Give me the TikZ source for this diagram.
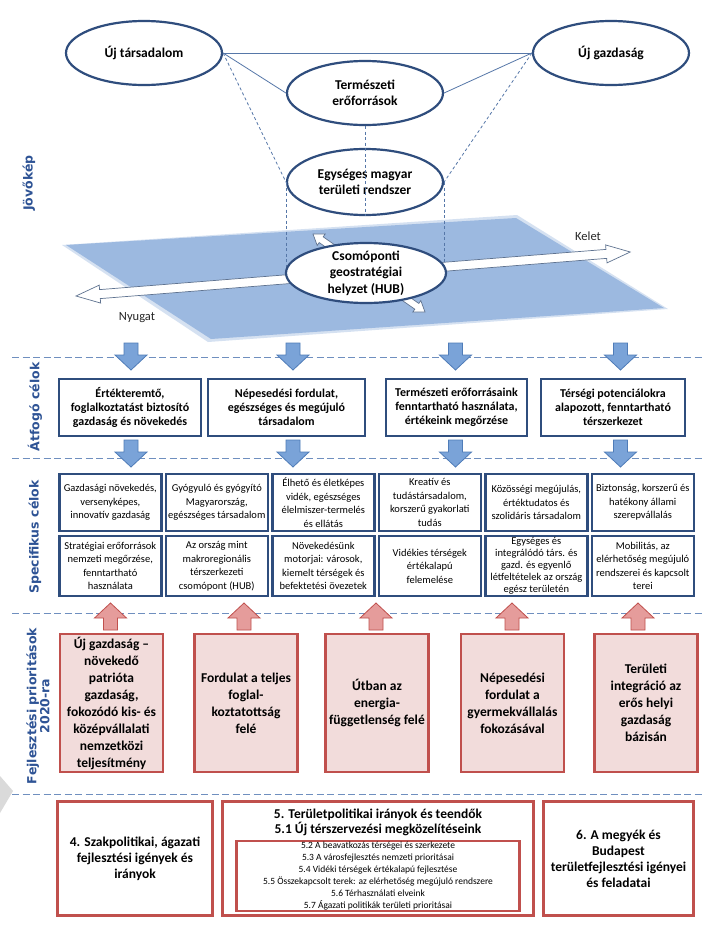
\documentclass[tikz,border=0pt]{standalone}
\usepackage{fontspec}
\setmainfont{Carlito}
\newfontfamily\labfont{DejaVu Sans}
\usetikzlibrary{shapes.geometric}
\definecolor{navy}{HTML}{2F4D7D}
\definecolor{lineblue}{HTML}{5677A8}
\definecolor{sepblue}{HTML}{6F8FBF}
\definecolor{labblue}{HTML}{2E5395}
\definecolor{planeblue}{HTML}{9CB9E0}
\definecolor{bafill}{HTML}{7AA3D8}
\definecolor{badraw}{HTML}{4F7CB8}
\definecolor{redb}{HTML}{C0504D}
\definecolor{redfill}{HTML}{F2DCDB}
\definecolor{rafill}{HTML}{E59C9B}
\definecolor{arrowline}{HTML}{5F7390}
\definecolor{foldgray}{HTML}{DADADA}
\begin{document}
\begin{tikzpicture}[x=1pt,y=-1pt,
  ell/.style={ellipse, draw=navy, line width=2.2pt, fill=white, inner sep=0pt, align=center,
    font=\fontsize{13.5}{16.5}\selectfont\bfseries, minimum width=156pt, minimum height=64pt},
  conn/.style={draw=lineblue, line width=0.8pt},
  dconn/.style={draw=lineblue, line width=0.8pt, dash pattern=on 3pt off 2.5pt},
  sepline/.style={draw=sepblue, line width=0.9pt, dash pattern=on 7pt off 3.5pt},
  lab/.style={rotate=90, text=labblue, font=\labfont\bfseries\fontsize{12.5}{11.5}\selectfont, align=center, inner sep=0pt},
  barrowpic/.pic={\draw[draw=badraw, fill=bafill, line width=0.8pt, line join=miter]
    (-7,-13.5) -- (7,-13.5) -- (7,-1.5) -- (16,-1.5) -- (0,13.5) -- (-16,-1.5) -- (-7,-1.5) -- cycle;},
  rarrowpic/.pic={\draw[draw=redb, fill=rafill, line width=0.8pt, line join=miter]
    (-7,13.5) -- (7,13.5) -- (7,1.5) -- (16,1.5) -- (0,-13.5) -- (-16,1.5) -- (-7,1.5) -- cycle;},
  abox/.style={draw=navy, line width=2.5pt, fill=white, align=center, inner sep=1pt,
    font=\fontsize{12}{14}\selectfont\bfseries, minimum height=57pt},
  sbox/.style={draw=navy, line width=2.5pt, fill=white, align=center, inner sep=1pt,
    font=\fontsize{10.5}{13.5}\selectfont, minimum width=102pt},
  pbox/.style={draw=redb, line width=2.5pt, fill=redfill, align=center, inner sep=0pt,
    font=\fontsize{13.5}{17}\selectfont\bfseries, minimum width=103pt, minimum height=138pt},
  bbox/.style={draw=redb, line width=3.5pt, fill=white, align=center, inner sep=0pt,
    font=\fontsize{13.5}{16}\selectfont\bfseries, minimum height=114pt},
  hollow/.style={draw=arrowline, fill=white, line width=0.7pt, line join=miter},
  dirlab/.style={font=\fontsize{12.5}{14}\selectfont, text=black!85, inner sep=0pt}
]
\useasboundingbox (0,0) rectangle (726,940);
\fill[white] (0,0) rectangle (726,940);

% ---------- plane ----------
\fill[planeblue!70, opacity=0.6] (62,245) -- (517,215) -- (668,309) -- (208,342) -- cycle;
\fill[planeblue] (66,245) -- (516,218) -- (664,308) -- (211,339) -- cycle;

% ---------- top ellipses ----------
\node[ell] (ts) at (144,53) {Új társadalom};
\node[ell] (ug) at (611,53) {Új gazdaság};
\node[ell] (te) at (365,93) {Természeti\\erőforrások};
\node[ell, minimum height=66pt] (eg) at (365,182) {Egységes magyar\\területi rendszer};
\coordinate (hubc) at (366,273);

\draw[conn] (ts.east) -- (ug.west);
\draw[conn] (ts.east) -- (te.west);
\draw[conn] (ug.west) -- (te.east);
\draw[dconn] (ts.east) -- (eg.west);
\draw[dconn] (ug.west) -- (eg.east);
\draw[dconn] (te.south) -- (eg.south);

% ---------- direction arrows ----------
\begin{scope}[shift={(76,296)}, rotate=4.54]
  \draw[hollow] (0,0) -- (24,-9) -- (24,-4.5) -- (532,-4.5) -- (532,-9) -- (556,0)
    -- (532,9) -- (532,4.5) -- (24,4.5) -- (24,9) -- cycle;
\end{scope}
\begin{scope}[shift={(313,234)}, rotate=-34.86]
  \draw[hollow] (0,0) -- (10,-7) -- (10,-3.5) -- (126.5,-3.5) -- (126.5,-7) -- (136.5,0)
    -- (126.5,7) -- (126.5,3.5) -- (10,3.5) -- (10,7) -- cycle;
\end{scope}

\draw[dconn] (eg.west) -- (eg.west |- hubc);
\draw[dconn] (eg.east) -- (eg.east |- hubc);

\node[ell, minimum width=160pt, minimum height=60pt, inner ysep=-5pt] (hub) at (hubc)
  {Csomóponti\\geostratégiai\\helyzet (HUB)};

\node[dirlab] (kelet) at (588,236) {Kelet};
\node[dirlab] (nyugat) at (137,318) {Nyugat};

% ---------- side labels ----------
\node[lab] (jk) at (29,183) {Jövőkép};
\node[lab] (ac) at (35,407) {Átfogó célok};
\node[lab] (sc) at (35,537) {Specifikus célok};
\node[lab] (fp) at (38,706) {Fejlesztési prioritások\\2020-ra};

% ---------- separators ----------
\draw[sepline] (12,357) -- (705,357);
\draw[sepline] (12,458) -- (705,458);
\draw[sepline] (12,613) -- (705,613);
\draw[sepline] (12,794) -- (705,794);

% small grey fold mark at the left edge
\fill[foldgray] (0,776) -- (13,791) -- (0,813) -- cycle;

% ---------- blue arrows ----------
\pic (ba1) at (131,356.5) {barrowpic};
\pic (ba2) at (293,356.5) {barrowpic};
\pic (ba3) at (455.5,356.5) {barrowpic};
\pic (ba4) at (620.5,356.5) {barrowpic};
\pic (bb1) at (131,453.5) {barrowpic};
\pic (bb2) at (293,453.5) {barrowpic};
\pic (bb3) at (455.5,453.5) {barrowpic};
\pic (bb4) at (620.5,453.5) {barrowpic};

% ---------- Átfogó célok ----------
\node[abox, minimum width=142pt] (a1) at (130,407.5) {Értékteremtő,\\foglalkoztatást biztosító\\gazdaság és növekedés};
\node[abox, minimum width=157pt] (a2) at (286.5,407.5) {Népesedési fordulat,\\egészséges és megújuló\\társadalom};
\node[abox, minimum width=141pt] (a3) at (456.5,407.5) {Természeti erőforrásaink\\fenntartható használata,\\értékeink megőrzése};
\node[abox, minimum width=144pt] (a4) at (613,407.5) {Térségi potenciálokra\\alapozott, fenntartható\\térszerkezet};

% ---------- Specifikus célok ----------
\node[sbox, minimum height=57pt] (s11) at (110.3,502.5) {Gazdasági növekedés,\\versenyképes,\\innovatív gazdaság};
\node[sbox, minimum height=57pt] (s12) at (216.8,502.5) {Gyógyuló és gyógyító\\Magyarország,\\egészséges társadalom};
\node[sbox, minimum height=57pt] (s13) at (323.3,502.5) {Élhető és életképes\\vidék, egészséges\\élelmiszer-termelés\\és ellátás};
\node[sbox, minimum height=57pt] (s14) at (429.8,502.5) {Kreatív és\\tudástársadalom,\\korszerű gyakorlati\\tudás};
\node[sbox, minimum height=57pt] (s15) at (536.3,502.5) {Közösségi megújulás,\\értéktudatos és\\szolidáris társadalom};
\node[sbox, minimum height=57pt] (s16) at (642.8,502.5) {Biztonság, korszerű és\\hatékony állami\\szerepvállalás};

\node[sbox, minimum height=60pt] (s21) at (110.3,566) {Stratégiai erőforrások\\nemzeti megőrzése,\\fenntartható\\használata};
\node[sbox, minimum height=60pt] (s22) at (216.8,566) {Az ország mint\\makroregionális\\térszerkezeti\\csomópont (HUB)};
\node[sbox, minimum height=60pt] (s23) at (323.3,566) {Növekedésünk\\motorjai: városok,\\kiemelt térségek és\\befektetési övezetek};
\node[sbox, minimum height=60pt] (s24) at (429.8,566) {Vidékies térségek\\értékalapú\\felemelése};
\node[sbox, minimum height=60pt, font=\fontsize{10.5}{12}\selectfont] (s25) at (536.3,566) {Egységes és\\integrálódó társ. és\\gazd. és egyenlő\\létfeltételek az ország\\egész területén};
\node[sbox, minimum height=60pt] (s26) at (642.8,566) {Mobilitás, az\\elérhetőség megújuló\\rendszerei és kapcsolt\\terei};

% ---------- red arrows ----------
\pic (ra1) at (110.5,616.5) {rarrowpic};
\pic (ra2) at (244,616.5) {rarrowpic};
\pic (ra3) at (376,616.5) {rarrowpic};
\pic (ra4) at (512,616.5) {rarrowpic};
\pic (ra5) at (638,616.5) {rarrowpic};

% ---------- priorities ----------
\node[pbox] (p1) at (111.5,703) {Új gazdaság --\\növekedő\\patrióta\\gazdaság,\\fokozódó kis- és\\középvállalati\\nemzetközi\\teljesítmény};
\node[pbox] (p2) at (246,703) {Fordulat a teljes\\foglal-\\koztatottság\\felé};
\node[pbox] (p3) at (377,703) {Útban az\\energia-\\függetlenség felé};
\node[pbox] (p4) at (512.5,703) {Népesedési\\fordulat a\\gyermekvállalás\\fokozásával};
\node[pbox] (p5) at (646,703) {Területi\\integráció az\\erős helyi\\gazdaság\\bázisán};

% ---------- bottom ----------
\node[bbox, minimum width=155pt] (b4) at (135,858.5) {4. Szakpolitikai, ágazati\\fejlesztési igények és\\irányok};
\node[bbox, minimum width=311pt] (b5) at (378,858.5) {};
\node[bbox, minimum width=150pt] (b6) at (618.5,858.5) {6. A megyék és\\Budapest\\területfejlesztési igényei\\és feladatai};
\node[font=\fontsize{13.5}{15}\selectfont\bfseries, align=center, inner sep=0pt] (b5t) at (378,822.5)
  {5. Területpolitikai irányok és teendők\\5.1 Új térszervezési megközelítéseink};
\node[draw=redb, line width=2.5pt, fill=white, align=center, inner sep=0pt,
  minimum width=283pt, minimum height=70pt, font=\fontsize{9.5}{12}\selectfont] (b5i) at (378,876)
  {5.2 A beavatkozás térségei és szerkezete\\
   5.3 A városfejlesztés nemzeti prioritásai\\
   5.4 Vidéki térségek értékalapú fejlesztése\\
   5.5 Összekapcsolt terek: az elérhetőség megújuló rendszere\\
   5.6 Térhasználati elveink\\
   5.7 Ágazati politikák területi prioritásai};
\end{tikzpicture}
\end{document}
